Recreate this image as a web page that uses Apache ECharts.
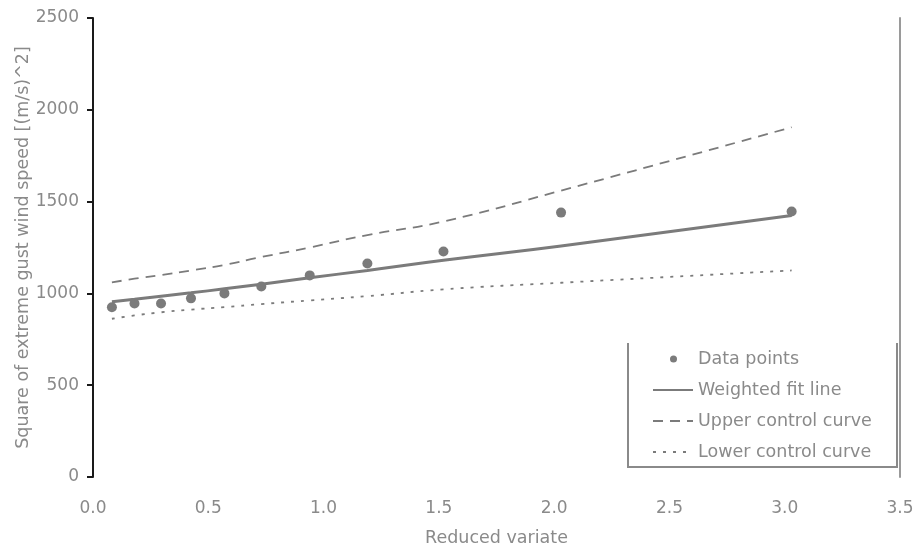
<!DOCTYPE html>
<html>
<head>
<meta charset="utf-8">
<script src="https://cdn.jsdelivr.net/npm/echarts@6/dist/echarts.min.js"></script>
<style>
  html, body { margin: 0; padding: 0; background: #fff; }
  #main { width: 914px; height: 548px; }
</style>
</head>
<body>
<div id="main"></div>
<script>
// reduced variate of each observation
var xValues = [0.082, 0.18, 0.295, 0.425, 0.57, 0.73, 0.94, 1.19, 1.52, 2.03, 3.03];
// squared gust speed, (m/s)^2
var dataPoints = [925, 945, 945, 973, 1000, 1038, 1098, 1163, 1228, 1440, 1446];
var fitLine = [955, 968, 985, 1003, 1025, 1050, 1085, 1125, 1180, 1258, 1424];
var upperCurve = [1060, 1080, 1100, 1125, 1155, 1198, 1250, 1318, 1392, 1560, 1905];
var lowerCurve = [862, 880, 897, 912, 925, 942, 962, 985, 1022, 1058, 1125];

var xTicks = [0, 0.5, 1, 1.5, 2, 2.5, 3, 3.5];
var yTicks = [0, 500, 1000, 1500, 2000, 2500];

function pairs(ys) {
  return xValues.map(function (x, i) { return [x, ys[i]]; });
}

var font = "'DejaVu Sans', sans-serif";
var textGray = '#8a8a8a';
var markGray = '#7b7b7b';

var chartDom = document.getElementById('main');
var myChart = echarts.init(chartDom, null, { renderer: 'canvas' });

var option = {
  animation: false,
  backgroundColor: '#fff',
  grid: { left: 93, right: 14, top: 18, bottom: 71, containLabel: false, outerBoundsMode: 'none' },
  xAxis: {
    type: 'value',
    min: xTicks[0],
    max: xTicks[xTicks.length - 1],
    interval: 0.5,
    name: 'Reduced variate',
    nameLocation: 'middle',
    nameGap: 52,
    nameMoveOverlap: false,
    nameTextStyle: { color: textGray, fontSize: 17.5, fontFamily: font },
    axisLine: { show: false },
    axisTick: { show: false },
    splitLine: { show: false },
    axisLabel: {
      color: textGray, fontSize: 17, fontFamily: font, margin: 23,
      formatter: function (v) { return v.toFixed(1); }
    }
  },
  yAxis: [
    {
      type: 'value',
      min: yTicks[0],
      max: yTicks[yTicks.length - 1],
      interval: 500,
      name: 'Square of extreme gust wind speed [(m/s)^2]',
      nameLocation: 'middle',
      nameGap: 61,
      nameMoveOverlap: false,
      nameTextStyle: { color: textGray, fontSize: 17.5, fontFamily: font },
      axisLine: { show: true, lineStyle: { color: '#1a1a1a', width: 2 } },
      axisTick: { show: true, length: 6, lineStyle: { color: '#1a1a1a', width: 2 } },
      splitLine: { show: false },
      axisLabel: {
        color: textGray, fontSize: 17, fontFamily: font, margin: 14,
        formatter: function (v) { return String(v); }
      }
    },
    {
      type: 'value',
      position: 'right',
      min: yTicks[0],
      max: yTicks[yTicks.length - 1],
      axisLine: { show: true, lineStyle: { color: '#9a9a9a', width: 2 } },
      axisTick: { show: false },
      axisLabel: { show: false },
      splitLine: { show: false }
    }
  ],
  legend: {
    orient: 'vertical',
    left: 647,
    top: 345,
    itemWidth: 40,
    itemHeight: 14,
    itemGap: 13,
    textStyle: { color: textGray, fontSize: 17.5, fontFamily: font },
    data: [
      { name: 'Data points', icon: 'path://M0,0 M40,14 M17,7 a3.5,3.5 0 1,0 7,0 a3.5,3.5 0 1,0 -7,0 Z' },
      { name: 'Weighted fit line', itemStyle: { opacity: 0 } },
      { name: 'Upper control curve', itemStyle: { opacity: 0 } },
      { name: 'Lower control curve', itemStyle: { opacity: 0 } }
    ]
  },
  graphic: [
    {
      type: 'polyline',
      shape: { points: [[628, 343], [628, 467], [897, 467], [897, 343]] },
      style: { stroke: '#8a8a8a', lineWidth: 2, fill: null },
      silent: true
    }
  ],
  series: [
    {
      name: 'Upper control curve',
      type: 'line',
      data: pairs(upperCurve),
      smooth: true,
      symbol: 'none',
      lineStyle: { color: markGray, width: 1.8, type: [10, 7] },
      itemStyle: { color: markGray }
    },
    {
      name: 'Lower control curve',
      type: 'line',
      data: pairs(lowerCurve),
      smooth: true,
      symbol: 'none',
      lineStyle: { color: markGray, width: 1.8, type: [3, 7] },
      itemStyle: { color: markGray }
    },
    {
      name: 'Weighted fit line',
      type: 'line',
      data: pairs(fitLine),
      smooth: true,
      symbol: 'none',
      lineStyle: { color: markGray, width: 3 },
      itemStyle: { color: markGray }
    },
    {
      name: 'Data points',
      type: 'scatter',
      data: pairs(dataPoints),
      symbol: 'circle',
      symbolSize: 10,
      itemStyle: { color: markGray, opacity: 1 }
    }
  ]
};

option && myChart.setOption(option);
</script>
</body>
</html>
